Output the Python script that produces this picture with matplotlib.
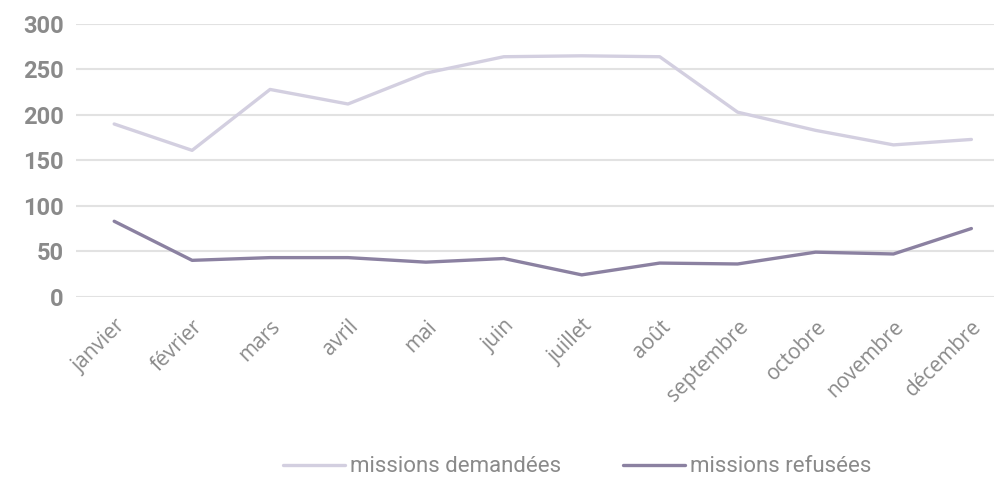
import matplotlib
matplotlib.use("Agg")
import matplotlib.pyplot as plt
import numpy as np

months = ["janvier", "février", "mars", "avril", "mai", "juin", "juillet",
          "août", "septembre", "octobre", "novembre", "décembre"]
demandees = [190, 161, 228, 212, 246, 264, 265, 264, 203, 183, 167, 173]
refusees = [83, 40, 43, 43, 38, 42, 24, 37, 36, 49, 47, 75]
yticks = [0, 50, 100, 150, 200, 250, 300]

plt.rcParams['font.family'] = ['Roboto', 'DejaVu Sans']

fig = plt.figure(figsize=(9.94, 4.8), dpi=100)
ax = fig.add_axes([76 / 994, 1 - 296.7 / 480, 1 - 76 / 994, (296.7 - 24) / 480])

x = np.arange(len(months))
ax.plot(x, demandees, color='#d3cfe0', lw=2.4, solid_capstyle='round',
        label='missions demandées', clip_on=False, zorder=3)
ax.plot(x, refusees, color='#8b81a1', lw=2.4, solid_capstyle='round',
        label='missions refusées', clip_on=False, zorder=3)

ax.set_ylim(0, 300)
ax.set_xlim(-0.49, 11.29)
ax.set_yticks(yticks)
ax.set_yticklabels([str(v) for v in yticks], fontsize=17, fontweight='bold', color='#8a8a8a')
ax.set_xticks(x)
ax.set_xticklabels(months, rotation=45, ha='right', rotation_mode='anchor',
                   fontsize=15, fontweight='normal', color='#8a8a8a',
                   family=['Open Sans', 'DejaVu Sans'])
ax.tick_params(axis='both', length=0)
ax.tick_params(axis='y', pad=9)
ax.tick_params(axis='x', pad=14)
ax.grid(axis='y', color='#e2e2e2', lw=1.5)
ax.set_axisbelow(True)
for s in ax.spines.values():
    s.set_visible(False)

leg = fig.legend(loc='center', bbox_to_anchor=(577 / 994, 1 - 467 / 480), ncol=2,
                 frameon=False, fontsize=16, handlelength=2.8, handletextpad=0.2,
                 columnspacing=2.8)
for t in leg.get_texts():
    t.set_color('#8a8a8a')

fig.savefig("out.png", dpi=100)
